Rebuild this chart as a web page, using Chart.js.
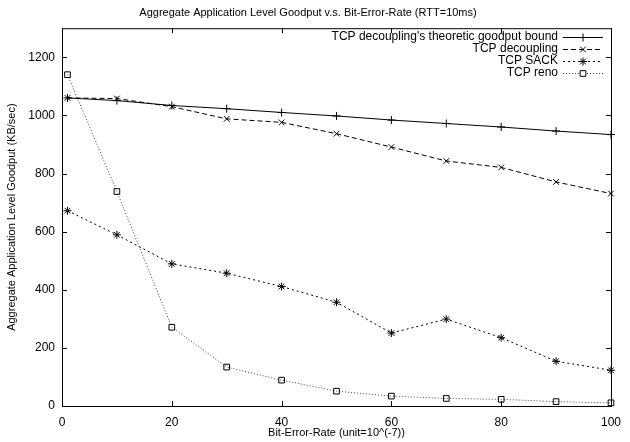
<!DOCTYPE html>
<html>
<head>
<meta charset="utf-8">
<script src="https://cdn.jsdelivr.net/npm/chart.js@4/dist/chart.umd.min.js"></script>
<style>
  html, body { margin: 0; padding: 0; background: #fff; }
  #wrap { width: 630px; height: 442px; }
</style>
</head>
<body>
<div id="wrap"><canvas id="goodput-chart" width="630" height="442"></canvas></div>
<script>
// bit-error-rate sample points (unit = 10^-7)
const berValues = [1, 10, 20, 30, 40, 50, 60, 70, 80, 90, 100];

// goodput in KB/sec
const boundValues = [1060, 1051, 1034, 1023, 1010, 998, 984, 972, 960, 946, 934];
const decouplingValues = [1060, 1058, 1030, 988, 976, 937, 891, 843, 821, 771, 731];
const sackValues = [672, 589, 489, 457, 411, 357, 251, 299, 235, 154, 123];
const renoValues = [1140, 738, 271, 134, 89, 51, 34, 26, 23, 15, 11];

const seriesLabels = [
  "TCP decoupling's theoretic goodput bound",
  "TCP decoupling",
  "TCP SACK",
  "TCP reno"
];

const font = "'Liberation Sans', Arial, Helvetica, sans-serif";

function toPoints(values) {
  return values.map((v, i) => ({ x: berValues[i], y: v }));
}

function makeDataset(label, values, dash, pointStyle, color) {
  return {
    label: label,
    data: toPoints(values),
    borderColor: color,
    backgroundColor: "rgba(0,0,0,0)",
    pointBorderColor: "#000",
    pointBackgroundColor: "rgba(0,0,0,0)",
    borderWidth: 1,
    borderDash: dash,
    pointStyle: pointStyle,
    pointRadius: 4,
    pointBorderWidth: 1,
    tension: 0,
    clip: false
  };
}

// gnuplot-like frame: box, mirrored inward ticks and the legend in the top right corner
const gnuplotFrame = {
  id: "gnuplotFrame",
  afterDatasetsDraw(chart) {
    const ctx = chart.ctx;
    const area = chart.chartArea;
    const xs = chart.scales.x;
    const ys = chart.scales.y;
    const tick = 5;

    ctx.save();
    ctx.strokeStyle = "#000";
    ctx.lineWidth = 1;
    ctx.setLineDash([]);
    ctx.strokeRect(area.left + 0.5, area.top + 0.5, area.right - area.left, area.bottom - area.top);

    ctx.beginPath();
    xs.ticks.forEach((t, i) => {
      const px = Math.round(xs.getPixelForTick(i)) + 0.5;
      ctx.moveTo(px, area.bottom);
      ctx.lineTo(px, area.bottom - tick);
      ctx.moveTo(px, area.top);
      ctx.lineTo(px, area.top + tick);
    });
    ys.ticks.forEach((t, i) => {
      const py = Math.round(ys.getPixelForTick(i)) + 0.5;
      ctx.moveTo(area.left, py);
      ctx.lineTo(area.left + tick, py);
      ctx.moveTo(area.right, py);
      ctx.lineTo(area.right - tick, py);
    });
    ctx.stroke();

    // legend
    const textRight = 558;
    const sampleLeft = 563;
    const sampleRight = 603;
    ctx.font = "12px " + font;
    ctx.textAlign = "right";
    ctx.textBaseline = "middle";
    chart.data.datasets.forEach((ds, i) => {
      const y = 37 + i * 12;
      ctx.fillStyle = "#000";
      ctx.fillText(ds.label, textRight, y);
      ctx.beginPath();
      ctx.strokeStyle = ds.borderColor;
      ctx.setLineDash(ds.borderDash);
      ctx.moveTo(sampleLeft, y + 0.5);
      ctx.lineTo(sampleRight, y + 0.5);
      ctx.stroke();
      ctx.setLineDash([]);
      ctx.strokeStyle = "#000";
      ctx.fillStyle = "#fff";
      Chart.helpers.drawPoint(ctx, {
        pointStyle: ds.pointStyle,
        radius: ds.pointRadius,
        borderWidth: 1,
        rotation: 0
      }, (sampleLeft + sampleRight) / 2, y + 0.5);
    });
    ctx.restore();
  }
};

new Chart(document.querySelector("#goodput-chart").getContext("2d"), {
  type: "line",
  data: {
    datasets: [
      makeDataset(seriesLabels[0], boundValues, [], "cross", "#000"),
      makeDataset(seriesLabels[1], decouplingValues, [5, 3], "crossRot", "#000"),
      makeDataset(seriesLabels[2], sackValues, [2, 3], "star", "#000"),
      makeDataset(seriesLabels[3], renoValues, [1, 2], "rect", "#444")
    ]
  },
  options: {
    responsive: false,
    animation: false,
    layout: { padding: { top: 0, right: 14, bottom: 0, left: 0 } },
    plugins: {
      legend: { display: false },
      tooltip: { enabled: false },
      title: {
        display: true,
        text: "Aggregate Application Level Goodput v.s. Bit-Error-Rate (RTT=10ms)",
        color: "#000",
        font: { family: font, size: 11, weight: "normal" },
        padding: { top: 6, bottom: 9 }
      }
    },
    scales: {
      x: {
        type: "linear",
        min: 0,
        max: 100,
        grid: { display: false, drawTicks: false },
        border: { display: false },
        ticks: {
          stepSize: 20,
          color: "#000",
          padding: 9,
          maxRotation: 0,
          font: { family: font, size: 12 }
        },
        title: {
          display: true,
          text: "Bit-Error-Rate (unit=10^(-7))",
          color: "#000",
          font: { family: font, size: 11 },
          padding: { top: 0, bottom: 2 }
        },
        afterFit(scale) { scale.height = 36; }
      },
      y: {
        min: 0,
        max: 1300,
        grid: { display: false, drawTicks: false },
        border: { display: false },
        ticks: {
          stepSize: 200,
          includeBounds: false,
          color: "#000",
          padding: 7,
          font: { family: font, size: 12 },
          callback: (value) => String(value)
        },
        title: {
          display: true,
          text: "Aggregate Application Level Goodput (KB/sec)",
          color: "#000",
          font: { family: font, size: 11 },
          padding: { top: 5, bottom: 0 }
        },
        afterFit(scale) { scale.width = 62; }
      }
    }
  },
  plugins: [gnuplotFrame]
});
</script>
</body>
</html>
